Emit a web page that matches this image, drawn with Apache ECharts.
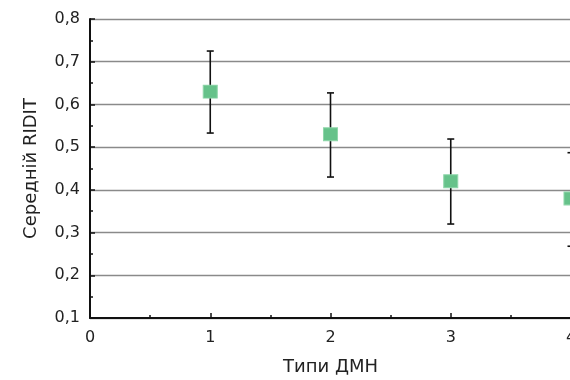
<!DOCTYPE html>
<html>
<head>
<meta charset="utf-8">
<script src="https://cdn.jsdelivr.net/npm/echarts@6/dist/echarts.min.js"></script>
<style>html,body{margin:0;padding:0;background:#fff;}#c{width:570px;height:380px;}</style>
</head>
<body>
<div id="c"></div>
<script>
// Data
const groups = [1, 2, 3, 4];
const meanRidit = [0.63, 0.53, 0.42, 0.38];
const lowerBound = [0.533, 0.430, 0.320, 0.268];
const upperBound = [0.725, 0.627, 0.519, 0.487];
const xTickLabels = ['0', '1', '2', '3', '4'];
const yTickLabels = { '0.1': '0,1', '0.2': '0,2', '0.3': '0,3', '0.4': '0,4', '0.5': '0,5', '0.6': '0,6', '0.7': '0,7', '0.8': '0,8' };
const xTitle = 'Типи ДМН';
const yTitle = 'Середній RIDIT';

const FONT = 'DejaVu Sans';
const chart = echarts.init(document.getElementById('c'), null, { renderer: 'canvas' });

const errData = groups.map((g, i) => [g, lowerBound[i], upperBound[i]]);
const ptData = groups.map((g, i) => [g, meanRidit[i]]);

chart.setOption({
  animation: false,
  backgroundColor: '#ffffff',
  grid: { left: 90, right: -1, top: 19, bottom: 62, containLabel: false, outerBoundsMode: 'none' },
  xAxis: {
    type: 'value', min: 0, max: 4, interval: 1,
    name: xTitle, nameLocation: 'middle', nameGap: 40,
    nameTextStyle: { fontFamily: FONT, fontSize: 18, color: '#222' },
    axisLine: { show: true, onZero: false, lineStyle: { color: '#111', width: 2 } },
    axisTick: { show: true, inside: true, length: 5, lineStyle: { color: '#111', width: 1.5 } },
    minorTick: { show: true, splitNumber: 2, length: 3, lineStyle: { color: '#111', width: 1.5 } },
    axisLabel: { fontFamily: FONT, fontSize: 16, color: '#222', margin: 12,
      formatter: v => xTickLabels[Math.round(v)] },
    splitLine: { show: false }
  },
  yAxis: {
    type: 'value', min: 0.1, max: 0.8, interval: 0.1,
    name: yTitle, nameLocation: 'middle', nameGap: 50, nameRotate: 90,
    nameTextStyle: { fontFamily: FONT, fontSize: 18, color: '#222' },
    axisLine: { show: true, lineStyle: { color: '#111', width: 2 } },
    axisTick: { show: true, inside: true, length: 5, lineStyle: { color: '#111', width: 1.5 } },
    minorTick: { show: true, splitNumber: 2, length: 3, lineStyle: { color: '#111', width: 1.5 } },
    axisLabel: { fontFamily: FONT, fontSize: 16, color: '#222', margin: 10,
      formatter: v => yTickLabels[v.toFixed(1)] || '' },
    splitLine: { show: true, lineStyle: { color: '#8a8a8a', width: 1.3 } }
  },
  series: [
    {
      type: 'custom',
      data: errData,
      clip: false,
      renderItem: function (params, api) {
        const x = api.value(0);
        const lo = api.coord([x, api.value(1)]);
        const hi = api.coord([x, api.value(2)]);
        const hw = 3.5;
        const st = { stroke: '#111', lineWidth: 1.6 };
        return {
          type: 'group',
          children: [
            { type: 'line', shape: { x1: lo[0], y1: lo[1], x2: hi[0], y2: hi[1] }, style: st },
            { type: 'line', shape: { x1: hi[0] - hw, y1: hi[1], x2: hi[0] + hw, y2: hi[1] }, style: st },
            { type: 'line', shape: { x1: lo[0] - hw, y1: lo[1], x2: lo[0] + hw, y2: lo[1] }, style: st }
          ]
        };
      },
      z: 2
    },
    {
      type: 'scatter',
      data: ptData,
      symbol: 'rect',
      symbolSize: [14, 13],
      itemStyle: { color: '#66c28a', borderColor: '#8fd6aa', borderWidth: 1, opacity: 1 },
      z: 3
    }
  ]
});
</script>
</body>
</html>
